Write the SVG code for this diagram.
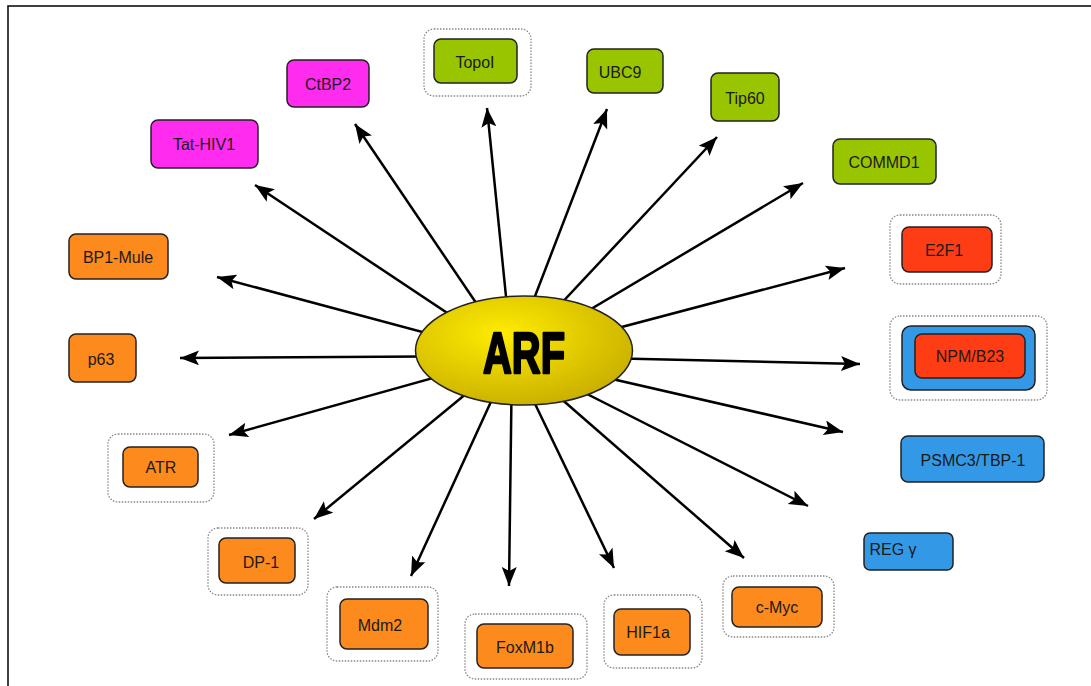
<svg xmlns="http://www.w3.org/2000/svg" width="1091" height="686" viewBox="0 0 1091 686">
<defs>
<style>
.box{stroke:#222;stroke-width:1.5}
.or{fill:#fd8a1c}.mg{fill:#ff2cf0}.gr{fill:#99c400}.rd{fill:#ff3d14}.bl{fill:#3399e6}
.dot{fill:none;stroke:#888;stroke-width:1.3;stroke-dasharray:1.5 1.5}
.lbl{font-family:"Liberation Sans",Arial,sans-serif;font-size:16px;fill:#1a1a1a;text-anchor:middle;dominant-baseline:central}
.con line{stroke:#000;stroke-width:2.5;marker-end:url(#ah)}
</style>
<marker id="ah" markerUnits="userSpaceOnUse" markerWidth="22" markerHeight="16" refX="19" refY="7.5" orient="auto">
<path d="M0,0 L19,7.5 L0,15 L4,7.5 Z" fill="#000"/>
</marker>
<radialGradient id="yg" cx="0.4" cy="0.35" r="0.7">
<stop offset="0" stop-color="#ffec00"/>
<stop offset="1" stop-color="#c8ae00"/>
</radialGradient>
</defs>
<rect x="0" y="0" width="1091" height="686" fill="#fff"/>
<rect x="8" y="6" width="1100" height="700" fill="none" stroke="#111" stroke-width="1.6"/>
<g id="connectors" class="con">
<line x1="512" y1="356" x2="255" y2="185"/>
<line x1="512" y1="356" x2="355" y2="124"/>
<line x1="512" y1="356" x2="487" y2="108"/>
<line x1="512" y1="356" x2="607" y2="109"/>
<line x1="512" y1="356" x2="717" y2="137"/>
<line x1="512" y1="356" x2="803" y2="183"/>
<line x1="512" y1="356" x2="845" y2="268"/>
<line x1="512" y1="356" x2="860" y2="364"/>
<line x1="512" y1="356" x2="843" y2="432"/>
<line x1="512" y1="356" x2="808" y2="506"/>
<line x1="512" y1="356" x2="744" y2="558"/>
<line x1="512" y1="356" x2="614" y2="568"/>
<line x1="512" y1="356" x2="509" y2="586"/>
<line x1="512" y1="356" x2="411" y2="576"/>
<line x1="512" y1="356" x2="314" y2="519"/>
<line x1="512" y1="356" x2="229" y2="435"/>
<line x1="512" y1="356" x2="180" y2="358"/>
<line x1="512" y1="356" x2="217" y2="277"/>
</g>
<g id="ARF">
<ellipse cx="524" cy="350.5" rx="108.5" ry="54.5" fill="url(#yg)" stroke="#222" stroke-width="1.5"/>
<text x="524" y="373" font-family="'Liberation Sans',Arial,sans-serif" font-weight="bold" font-size="58" text-anchor="middle" textLength="82" lengthAdjust="spacingAndGlyphs" fill="#000" stroke="#000" stroke-width="2.5" stroke-linejoin="round">ARF</text>
</g>
<g id="CtBP2"><rect class="box mg" x="287" y="60" width="82" height="47" rx="7"/><text class="lbl" x="328" y="84">CtBP2</text></g>
<g id="TopoI"><rect class="dot" x="424" y="29" width="107" height="67" rx="10"/><rect class="box gr" x="434" y="39" width="83" height="44" rx="7"/><text class="lbl" x="475" y="62">TopoI</text></g>
<g id="UBC9"><rect class="box gr" x="587" y="49" width="76" height="44" rx="7"/><text class="lbl" x="620" y="72">UBC9</text></g>
<g id="Tip60"><rect class="box gr" x="711" y="73" width="68" height="48" rx="7"/><text class="lbl" x="745" y="98">Tip60</text></g>
<g id="COMMD1"><rect class="box gr" x="833" y="139" width="103" height="45" rx="7"/><text class="lbl" x="884" y="162">COMMD1</text></g>
<g id="E2F1"><rect class="dot" x="890" y="215" width="111" height="69" rx="10"/><rect class="box rd" x="902" y="227" width="90" height="45" rx="7"/><text class="lbl" x="944" y="250">E2F1</text></g>
<g id="NPM-B23"><rect class="dot" x="890" y="316" width="157" height="84" rx="10"/><rect class="box bl" x="902" y="326" width="133" height="64" rx="9"/><rect class="box rd" x="915" y="334" width="110" height="44" rx="7"/><text class="lbl" x="970" y="356">NPM/B23</text></g>
<g id="PSMC3-TBP-1"><rect class="box bl" x="901" y="436" width="143" height="46" rx="7"/><text class="lbl" x="973" y="460">PSMC3/TBP-1</text></g>
<g id="REGgamma"><rect class="box bl" x="864" y="533" width="89" height="37" rx="6"/><text class="lbl" x="893" y="549">REG γ</text></g>
<g id="c-Myc"><rect class="dot" x="723" y="576" width="111" height="61" rx="10"/><rect class="box or" x="732" y="587" width="90" height="40" rx="7"/><text class="lbl" x="777" y="607">c-Myc</text></g>
<g id="HIF1a"><rect class="dot" x="604" y="595" width="98" height="73" rx="10"/><rect class="box or" x="614" y="609" width="76" height="46" rx="7"/><text class="lbl" x="648" y="632">HIF1a</text></g>
<g id="FoxM1b"><rect class="dot" x="465" y="614" width="122" height="65" rx="10"/><rect class="box or" x="477" y="624" width="96" height="44" rx="7"/><text class="lbl" x="525" y="647">FoxM1b</text></g>
<g id="Mdm2"><rect class="dot" x="327" y="587" width="111" height="74" rx="10"/><rect class="box or" x="340" y="599" width="88" height="50" rx="7"/><text class="lbl" x="380" y="625">Mdm2</text></g>
<g id="DP-1"><rect class="dot" x="208" y="528" width="100" height="67" rx="10"/><rect class="box or" x="219" y="538" width="76" height="45" rx="7"/><text class="lbl" x="261" y="562">DP-1</text></g>
<g id="ATR"><rect class="dot" x="108" y="434" width="106" height="68" rx="10"/><rect class="box or" x="123" y="447" width="75" height="40" rx="7"/><text class="lbl" x="161" y="467">ATR</text></g>
<g id="p63"><rect class="box or" x="69" y="334" width="67" height="48" rx="7"/><text class="lbl" x="101" y="359">p63</text></g>
<g id="BP1-Mule"><rect class="box or" x="69" y="234" width="99" height="45" rx="7"/><text class="lbl" x="118" y="257">BP1-Mule</text></g>
<g id="Tat-HIV1"><rect class="box mg" x="151" y="120" width="107" height="48" rx="7"/><text class="lbl" x="204" y="144">Tat-HIV1</text></g>
</svg>
